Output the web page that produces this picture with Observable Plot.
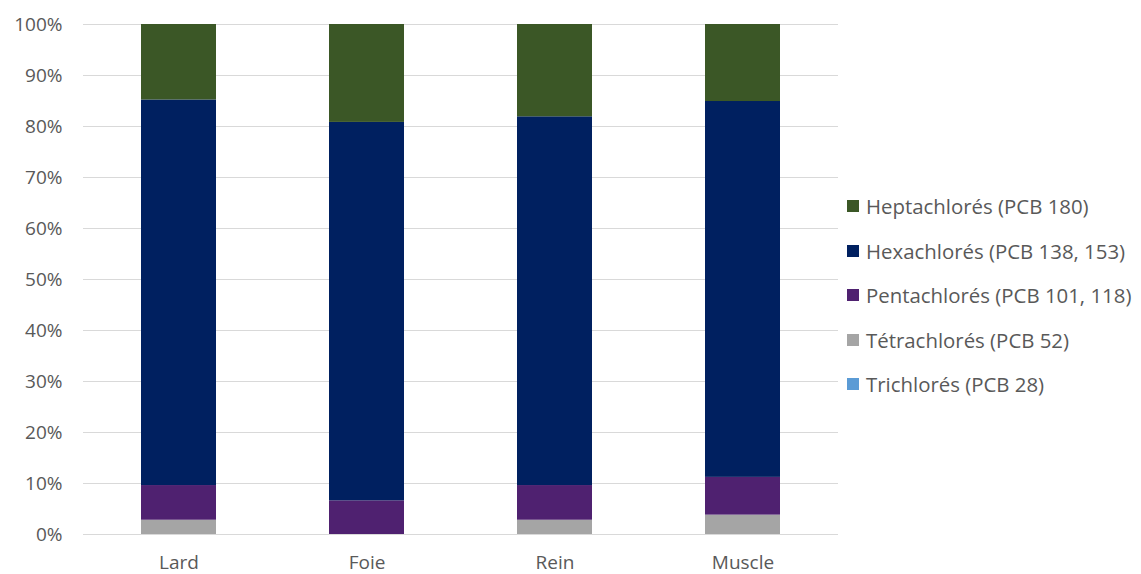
<!DOCTYPE html>
<html>
<head>
<meta charset="utf-8">
<script src="https://cdn.jsdelivr.net/npm/d3@7"></script>
<script src="https://cdn.jsdelivr.net/npm/@observablehq/plot@0.6"></script>
<style>
  html, body { margin: 0; padding: 0; background: #fff; }
  #wrap { position: relative; width: 1141px; height: 574px; font-family: "Open Sans", Lato, sans-serif; color: #595959; }
  #legend { position: absolute; left: 847px; top: 184px; font-size: 20.4px; }
  .row { display: flex; align-items: center; height: 44.5px; white-space: nowrap; }
  .sw { width: 12px; height: 12px; margin-right: 7px; flex: none; }
</style>
</head>
<body>
<div id="wrap"><div id="chart"></div><div id="legend"></div></div>
<script>
// Tissues (x categories)
const tissues = ["Lard", "Foie", "Rein", "Muscle"];

// Congener groups, bottom of stack first
const groups = [
  "Trichlorés (PCB 28)",
  "Tétrachlorés (PCB 52)",
  "Pentachlorés (PCB 101, 118)",
  "Hexachlorés (PCB 138, 153)",
  "Heptachlorés (PCB 180)"
];
const colors = ["#5b9bd5", "#a5a5a5", "#4f2170", "#002060", "#3b5726"];

// Share of each group per tissue (%), same order as tissues
const trichlores   = [0.0, 0.0, 0.0, 0.0];
const tetrachlores = [2.8, 0.0, 2.8, 3.8];
const pentachlores = [6.8, 6.6, 6.8, 7.4];
const hexachlores  = [75.6, 74.2, 72.3, 73.7];
const heptachlores = [14.8, 19.2, 18.1, 15.1];

const yTicks = [0, 10, 20, 30, 40, 50, 60, 70, 80, 90, 100];

const series = [trichlores, tetrachlores, pentachlores, hexachlores, heptachlores];
const rows = [];
groups.forEach((g, gi) => {
  tissues.forEach((t, ti) => rows.push({tissue: t, group: g, value: series[gi][ti]}));
});

const chart = Plot.plot({
  width: 845,
  height: 574,
  marginLeft: 83,
  marginRight: 7,
  marginTop: 24,
  marginBottom: 40,
  style: {fontFamily: "'Open Sans', Lato, sans-serif", fontSize: "19px", color: "#595959", background: "#fff"},
  x: {domain: tissues, paddingInner: 0.6, paddingOuter: 0.3, label: null},
  y: {domain: [0, 100], label: null},
  color: {domain: groups, range: colors},
  marks: [
    Plot.ruleY(yTicks, {stroke: "#d9d9d9", strokeWidth: 1.2}),
    Plot.barY(rows, {x: "tissue", y: "value", fill: "group", order: groups}),
    Plot.axisY({ticks: yTicks, tickFormat: d => d + "%", tickSize: 0, tickPadding: 21, fontSize: 19}),
    Plot.axisX({tickSize: 0, tickPadding: 21, fontSize: 19})
  ]
});
document.getElementById("chart").appendChild(chart);

// Legend, top entry = top of stack
const legend = d3.select("#legend");
groups.slice().reverse().forEach(g => {
  const r = legend.append("div").attr("class", "row");
  r.append("div").attr("class", "sw").style("background", colors[groups.indexOf(g)]);
  r.append("span").text(g);
});
</script>
</body>
</html>
